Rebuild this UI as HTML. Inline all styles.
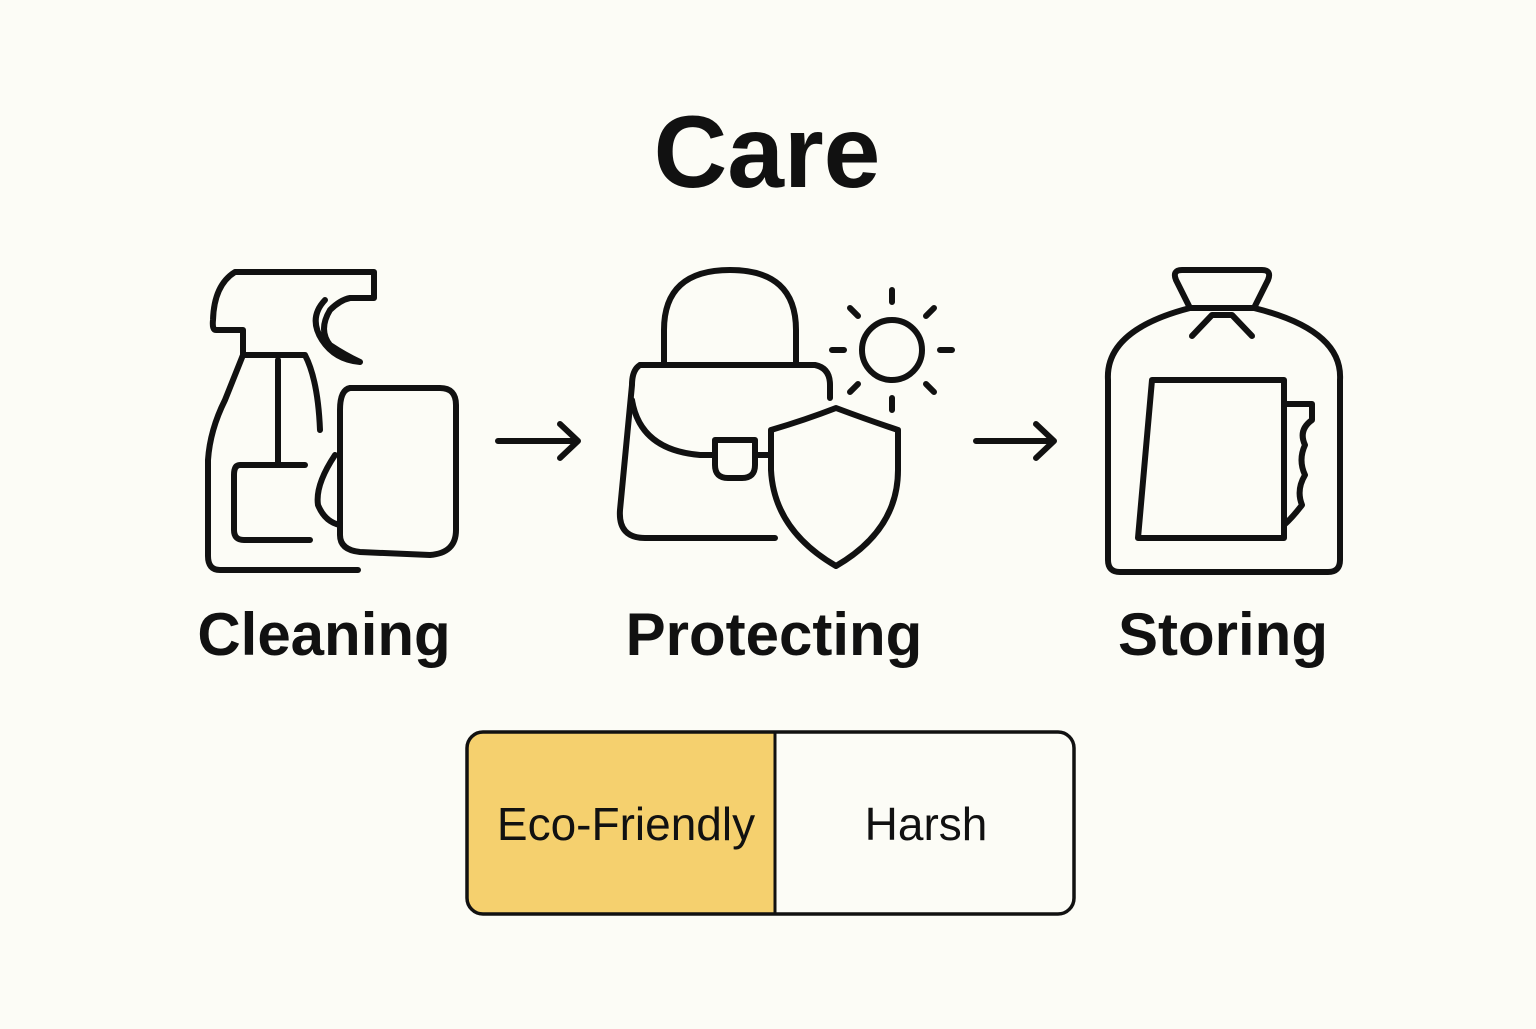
<!DOCTYPE html>
<html><head><meta charset="utf-8"><style>
body{margin:0;width:1536px;height:1024px;background:#fcfcf6;overflow:hidden;font-family:"Liberation Sans",sans-serif;}
</style></head><body>
<svg width="1536" height="1024" xmlns="http://www.w3.org/2000/svg">
<rect width="1536" height="1024" fill="#fcfcf6"/>
<text x="767" y="187" text-anchor="middle" font-family="Liberation Sans,sans-serif" font-weight="bold" font-size="102" fill="#111">Care</text>
<g fill="none" stroke="#111" stroke-width="6" stroke-linecap="round" stroke-linejoin="round">
<path d="M358 570 H220 Q208 570 208 556 V460 Q210 430 225 400 L243 355 V330 H216 Q212 330 213 320 Q214 285 235 272 H374 V298 H350 Q340 300 330 310 Q318 330 330 345 Q345 355 360 362 Q335 360 322 340 Q308 318 325 300"/>
<path d="M243 355 H305 Q318 380 320 430"/>
<path d="M278 360 V465 H240 Q234 465 234 475 V530 Q234 540 244 540 H310"/>
<path d="M305 465 H278"/>
<path d="M350 388 H440 Q456 388 456 405 V530 Q456 553 430 555 L360 552 Q340 550 340 535 V410 Q340 390 350 388Z"/>
<path d="M335 455 Q315 485 318 505 Q325 522 340 525"/>
<path d="M498 441 H578 M560 424 L578 441 L560 458"/>
<path d="M976 441 H1054 M1036 424 L1054 441 L1036 458"/>
<path d="M664 365 V330 Q664 270 730 270 Q796 270 796 330 V365"/>
<path d="M640 365 H815 Q830 368 830 385 V398"/>
<path d="M640 365 Q632 370 632 385 L620 510 Q618 538 645 538 H775"/>
<path d="M632 400 Q640 450 700 455 H715"/>
<path d="M755 455 H770"/>
<path d="M715 440 H755 V465 Q755 478 742 478 H728 Q715 478 715 465Z"/>
<path d="M771 430 Q805 420 836 408 Q868 420 898 430 V470 Q898 530 836 566 Q774 530 771 470Z"/>
<circle cx="892" cy="350" r="30"/>
<path d="M892 290 V302 M892 398 V410 M832 350 H844 M940 350 H952 M850 308 L858 316 M926 384 L934 392 M934 308 L926 316 M858 384 L850 392"/>
<path d="M1190 308 L1176 280 Q1172 270 1182 270 H1262 Q1272 270 1268 280 L1254 308"/>
<path d="M1190 308 Q1105 330 1108 380 V560 Q1108 572 1120 572 H1328 Q1340 572 1340 560 V380 Q1343 330 1254 308Z"/>
<path d="M1192 336 L1212 315 L1232 315 L1252 336"/>
<path d="M1152 380 H1284 V538 H1138 Z"/>
<path d="M1284 404 H1312 V420 Q1298 430 1305 445 Q1298 460 1305 475 Q1296 490 1302 505 Q1292 518 1284 525"/>
</g>
<g font-family="Liberation Sans,sans-serif" font-weight="bold" font-size="60" fill="#111" text-anchor="middle">
<text x="324" y="655">Cleaning</text>
<text x="774" y="655">Protecting</text>
<text x="1223" y="655">Storing</text>
</g>
<path d="M482 732 H775 V914 H482 Q467 914 467 899 V747 Q467 732 482 732Z" fill="#f5d06e"/>
<rect x="467" y="732" width="607" height="182" rx="16" fill="none" stroke="#111" stroke-width="3.5"/>
<line x1="775" y1="732" x2="775" y2="914" stroke="#111" stroke-width="3"/>
<g font-family="Liberation Sans,sans-serif" font-size="46" fill="#111" text-anchor="middle">
<text x="626" y="840">Eco-Friendly</text>
<text x="926" y="840">Harsh</text>
</g>
</svg>
</body></html>
